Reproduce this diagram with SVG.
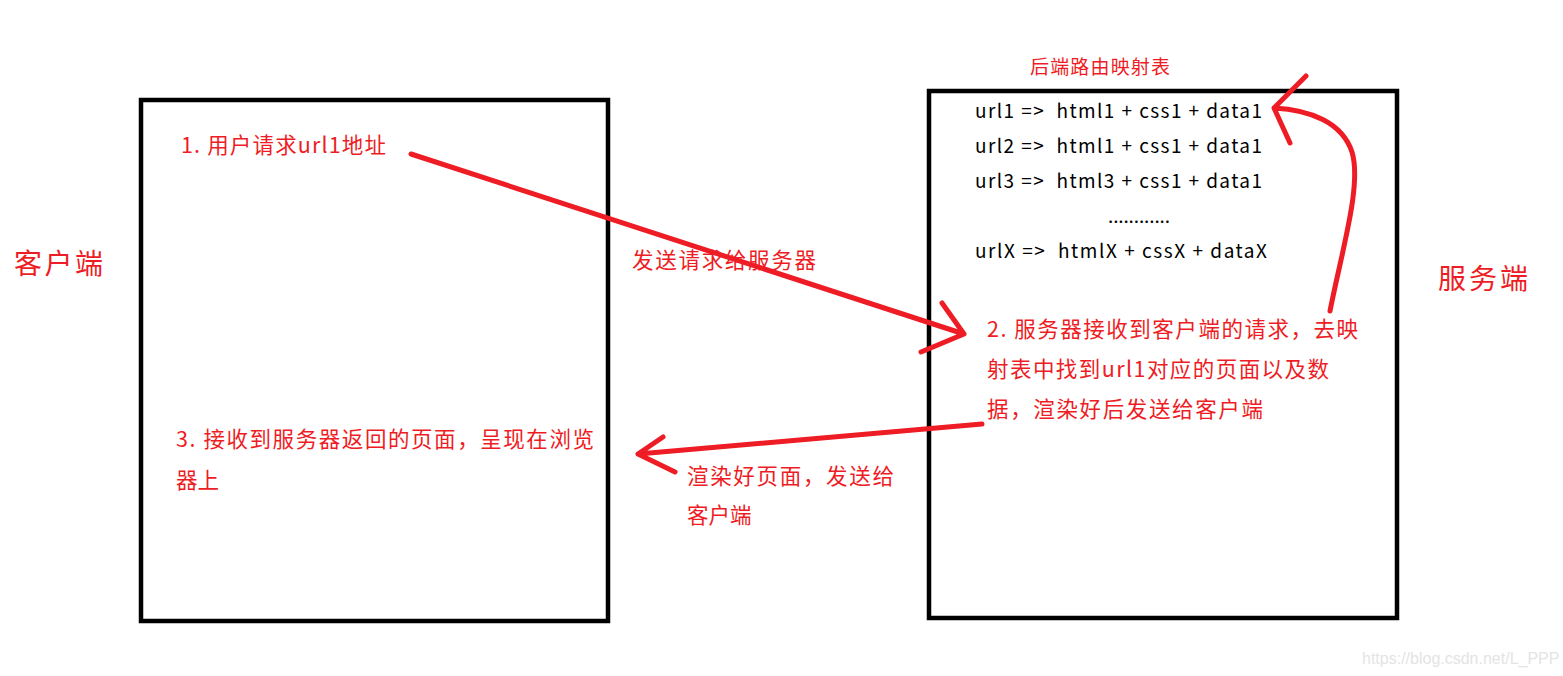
<svg xmlns="http://www.w3.org/2000/svg" width="1563" height="676" viewBox="0 0 1563 676">
<style>
.box{fill:none;stroke:#000;stroke-width:4.5}
.red{fill:#ee1c24;font-family:"Microsoft YaHei","Noto Sans CJK SC",sans-serif;font-size:21.5px}
.big{font-size:28px}
.map{fill:#000;font-family:"Noto Sans CJK SC","Noto Sans",sans-serif;font-size:19px}
.arr{fill:none;stroke:#ee1c24;stroke-width:5;stroke-linecap:round;stroke-linejoin:round}
.wm{fill:#e4e4e4;font-family:"Liberation Sans",Arial,sans-serif;font-size:16px}
</style>
<rect width="1563" height="676" fill="#fff"/>
<g id="client">
<rect class="box" x="141" y="100" width="467" height="521"/>
<text class="red big" x="14" y="274" textLength="89">客户端</text>
<text class="red" x="181" y="153" textLength="205">1. 用户请求url1地址</text>
<text class="red" x="176" y="447" textLength="418">3. 接收到服务器返回的页面，呈现在浏览</text>
<text class="red" x="176" y="488">器上</text>
</g>
<g id="server">
<rect class="box" x="929" y="91" width="468" height="527"/>
<text class="red big" x="1438" y="289" textLength="90">服务端</text>
<text class="red" x="1030" y="74" style="font-size:19px" textLength="140">后端路由映射表</text>
<text class="map" x="975" y="118" textLength="287" lengthAdjust="spacing" xml:space="preserve">url1 =>  html1 + css1 + data1</text>
<text class="map" x="975" y="153" textLength="287" lengthAdjust="spacing" xml:space="preserve">url2 =>  html1 + css1 + data1</text>
<text class="map" x="975" y="188" textLength="287" lengthAdjust="spacing" xml:space="preserve">url3 =>  html3 + css1 + data1</text>
<text class="map" x="1108" y="223" textLength="62" lengthAdjust="spacing">............</text>
<text class="map" x="975" y="258" textLength="292" lengthAdjust="spacing" xml:space="preserve">urlX =>  htmlX + cssX + dataX</text>
<text class="red" x="987" y="337" textLength="371">2. 服务器接收到客户端的请求，去映</text>
<text class="red" x="987" y="377" textLength="342">射表中找到url1对应的页面以及数</text>
<text class="red" x="987" y="417" textLength="276">据，渲染好后发送给客户端</text>
</g>
<g id="connectors">
<path class="arr" d="M411,154 L964,334 M942,303 L964,334 L921,352"/>
<text class="red" x="632" y="268" textLength="184">发送请求给服务器</text>
<path class="arr" d="M982,424 L638,454 M663,437 L638,454 L675,472"/>
<text class="red" x="687" y="484" textLength="207">渲染好页面，发送给</text>
<text class="red" x="687" y="523">客户端</text>
<path class="arr" d="M1330,311 C1342,250 1362,185 1352,152 C1342,122 1310,110 1274,108 M1306,76 L1274,108 L1290,143"/>
</g>
<text class="wm" x="1362" y="664">https://blog.csdn.net/L_PPP</text>
</svg>
